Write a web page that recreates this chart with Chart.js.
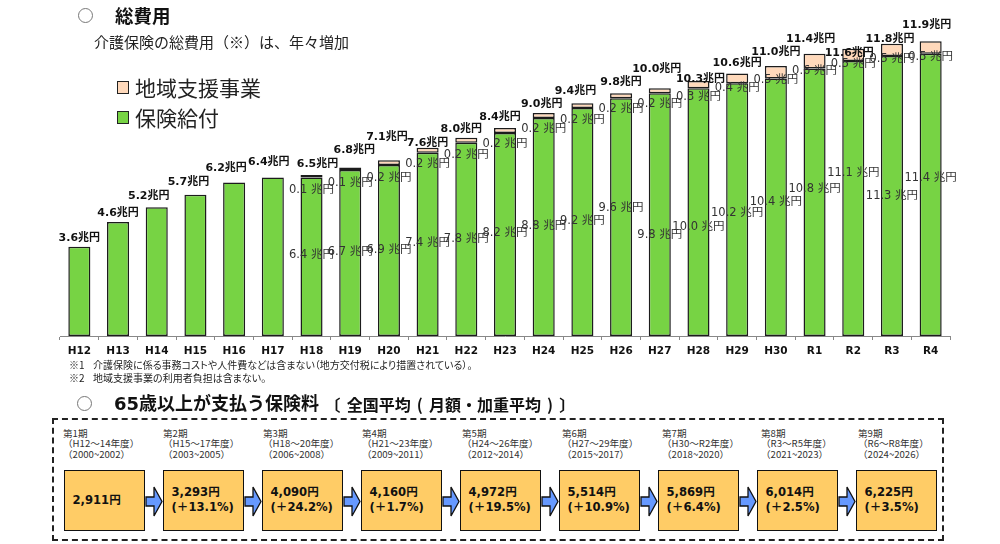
<!DOCTYPE html>
<html lang="ja">
<head>
    <meta charset="UTF-8">
    <title>介護保険の総費用</title>
    <script src="https://cdn.jsdelivr.net/npm/chart.js"></script>
    <style>
        html, body { margin: 0; padding: 0; background: #fff; }
        body {
            position: relative; width: 1000px; height: 544px; overflow: hidden;
            font-family: "DejaVu Sans", "Noto Sans CJK JP", sans-serif; color: #111;
        }
        canvas#costChart { position: absolute; left: 0; top: 0; }
        .t { position: absolute; white-space: pre; line-height: 1; }
        .circle { position: absolute; width: 13px; height: 13px; border: 1.5px solid #777; border-radius: 50%; }
        .head { font-family: "Noto Sans CJK JP", sans-serif; font-weight: 700; font-size: 18px; }
        .legend-box { position: absolute; width: 10px; height: 11px; border: 1.5px solid #222; }
        .legend-text { font-family: "Noto Sans CJK JP", sans-serif; font-size: 21px; color: #222; }
        .note { font-family: "Noto Sans CJK JP", sans-serif; font-size: 10px; color: #222; font-feature-settings: "palt"; }
        .frame { position: absolute; left: 52px; top: 418px; width: 888px; height: 119px; border: 2px dashed #222; }
        .period { font-family: "Noto Sans CJK JP", sans-serif; font-size: 9.6px; color: #333; line-height: 10.4px; }
        .box {
            position: absolute; top: 470px; width: 79px; height: 59px; background: #FFCC66;
            border: 1.5px solid #111; font-weight: 700; font-size: 11.6px; line-height: 15px;
        }
        .box div { position: absolute; left: 7.5px; white-space: pre; }
        svg.arrows { position: absolute; left: 0; top: 0; }
    </style>
</head>
<body>
    <canvas id="costChart" width="1000" height="360"></canvas>

    <div class="circle" style="left:78px;top:8px"></div>
    <div class="t head" style="left:115px;top:6px;font-size:18.5px">総費用</div>
    <div class="t" style="left:94px;top:34px;font-family:'Noto Sans CJK JP';font-size:15px;color:#222">介護保険の総費用（※）は、年々増加</div>

    <div class="legend-box" style="left:117px;top:81px;background:#FFD9BB"></div>
    <div class="t legend-text" style="left:135px;top:77px">地域支援事業</div>
    <div class="legend-box" style="left:117px;top:111px;background:#77D344"></div>
    <div class="t legend-text" style="left:135px;top:107px">保険給付</div>

    <div class="t note" style="left:69px;top:360px">※1</div>
    <div class="t note" style="left:93px;top:360px">介護保険に係る事務コストや人件費などは含まない（地方交付税により措置されている）。</div>
    <div class="t note" style="left:69px;top:373px">※2</div>
    <div class="t note" style="left:93px;top:373px">地域支援事業の利用者負担は含まない。</div>

    <div class="circle" style="left:77px;top:396px"></div>
    <div class="t head" style="left:114px;top:395px;font-family:'DejaVu Sans','Noto Sans CJK JP'">65歳以上が支払う保険料</div>
    <div class="t head" style="left:324.5px;top:396px;font-size:16px;word-spacing:2.5px">〔 全国平均 ( 月額・加重平均 ) 〕</div>

    <div class="frame"></div>
    <div id="premiums"></div>

    <script>
        const categories = ['H12','H13','H14','H15','H16','H17','H18','H19','H20','H21','H22','H23','H24','H25','H26','H27','H28','H29','H30','R1','R2','R3','R4'];
        const benefit = [3.6,4.6,5.2,5.7,6.2,6.4,6.4,6.7,6.9,7.4,7.8,8.2,8.8,9.2,9.6,9.8,10.0,10.2,10.4,10.8,11.1,11.3,11.4];
        const support = [null,null,null,null,null,null,0.1,0.1,0.2,0.2,0.2,0.2,0.2,0.2,0.2,0.2,0.3,0.4,0.5,0.6,0.5,0.5,0.5];
        const totals = [3.6,4.6,5.2,5.7,6.2,6.4,6.5,6.8,7.1,7.6,8.0,8.4,9.0,9.4,9.8,10.0,10.3,10.6,11.0,11.4,11.6,11.8,11.9];

        // hand placed labels in the original, offsets in px from the bar
        const totalDx = [0,0,-8,-7,-8,-4,6,4,-2,0,-5,-5,-2,-7,0,-3,2,0,0,-4,-4,-2,-4];
        const totalDy = [-9,-9,-11,-13,-14,-15,-11,-17,-23,-5,-9,-11,-9,-12,-11,-19,-2,-10,-14,-14,4,-5,-16];
        const benefitDy = [0,0,0,0,0,0,78,82,85,90,96,100,108,113,110,142,139,130,124,121,112,140,124];
        const supportDy = [0,0,0,0,0,0,15,15,18,16,17,16,16,17,16,16,16,15,14,17,15,15,16];

        const periods = ['第1期','第2期','第3期','第4期','第5期','第6期','第7期','第8期','第9期'];
        const periodYears = ['H12～14年度','H15～17年度','H18～20年度','H21～23年度','H24～26年度','H27～29年度','H30～R2年度','R3～R5年度','R6～R8年度'];
        const periodSpans = ['2000~2002','2003~2005','2006~2008','2009~2011','2012~2014','2015~2017','2018~2020','2021~2023','2024~2026'];
        const premiums = ['2,911円','3,293円','4,090円','4,160円','4,972円','5,514円','5,869円','6,014円','6,225円'];
        const changes = [null,'(＋13.1%)','(＋24.2%)','(＋1.7%)','(＋19.5%)','(＋10.9%)','(＋6.4%)','(＋2.5%)','(＋3.5%)'];

        const labelFont = '"DejaVu Sans", "Noto Sans CJK JP", sans-serif';

        const barLabels = {
            id: 'barLabels',
            afterDatasetsDraw(chart) {
                const ctx = chart.ctx;
                const y = chart.scales.y;
                const bars = chart.getDatasetMeta(0).data;
                ctx.save();
                ctx.textAlign = 'center';
                ctx.textBaseline = 'middle';
                bars.forEach((bar, i) => {
                    const topB = y.getPixelForValue(benefit[i]);
                    const topS = y.getPixelForValue(benefit[i] + (support[i] || 0));
                    if (support[i] !== null) {
                        ctx.font = '11.5px ' + labelFont;
                        ctx.fillStyle = '#333';
                        ctx.fillText(benefit[i].toFixed(1) + ' 兆円', bar.x, topB + benefitDy[i]);
                        ctx.fillText(support[i].toFixed(1) + ' 兆円', bar.x, topS + supportDy[i]);
                    }
                    ctx.font = 'bold 11px ' + labelFont;
                    ctx.fillStyle = '#111';
                    ctx.fillText(totals[i].toFixed(1) + '兆円', bar.x + totalDx[i], topS + totalDy[i]);
                });
                ctx.restore();
            }
        };

        new Chart(document.getElementById('costChart').getContext('2d'), {
            type: 'bar',
            data: {
                labels: categories,
                datasets: [
                    { label: '保険給付', data: benefit, backgroundColor: '#77D344' },
                    { label: '地域支援事業', data: support, backgroundColor: '#FFD9BB' }
                ]
            },
            options: {
                responsive: false,
                animation: false,
                devicePixelRatio: 1,
                layout: { padding: { left: 60, right: 50, top: 14, bottom: 0 } },
                datasets: { bar: { barPercentage: 0.57, categoryPercentage: 1, borderColor: '#1c1c1c', borderWidth: 1.5, borderSkipped: false } },
                plugins: { legend: { display: false }, tooltip: { enabled: false } },
                scales: {
                    x: {
                        stacked: true,
                        grid: { drawOnChartArea: false, color: '#888', tickLength: 4 },
                        border: { color: '#888' },
                        ticks: { color: '#111', padding: 5, maxRotation: 0, autoSkip: false, font: { family: labelFont, size: 10.5, weight: 'bold' } },
                        afterFit(scale) { scale.height = 24; }
                    },
                    y: { stacked: true, display: false, min: 0, max: 13 }
                }
            },
            plugins: [barLabels]
        });

        // bottom strip: premium per period
        const strip = document.getElementById('premiums');
        let arrows = '';
        periods.forEach((p, i) => {
            const left = 65 + 99 * i;
            const textLeft = [63,163,263,362,462,562,662,761,858][i];
            const head = document.createElement('div');
            head.className = 't period';
            head.style.left = textLeft + 'px';
            head.style.top = '428px';
            head.textContent = p + '\n（' + periodYears[i] + '）\n（' + periodSpans[i] + '）';
            strip.appendChild(head);

            const box = document.createElement('div');
            box.className = 'box';
            box.style.left = left - 1 + 'px';
            const main = document.createElement('div');
            main.textContent = premiums[i];
            main.style.top = changes[i] ? '14px' : '22px';
            box.appendChild(main);
            if (changes[i]) {
                const sub = document.createElement('div');
                sub.textContent = changes[i];
                sub.style.top = '29px';
                box.appendChild(sub);
            }
            strip.appendChild(box);

            if (i < periods.length - 1) {
                const x = left + 81;
                arrows += `<polygon points="${x},497 ${x + 8},497 ${x + 8},487 ${x + 16},501.5 ${x + 8},516 ${x + 8},506 ${x},506" fill="#6699FF" stroke="#111" stroke-width="1.3"/>`;
            }
        });
        strip.insertAdjacentHTML('beforeend', `<svg class="arrows" width="1000" height="544">${arrows}</svg>`);
    </script>
</body>
</html>
